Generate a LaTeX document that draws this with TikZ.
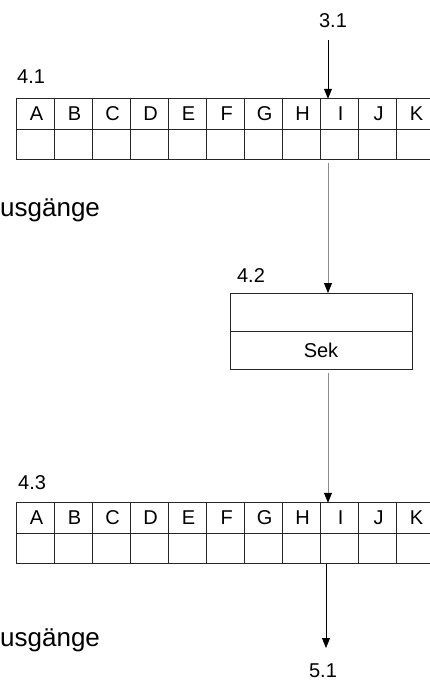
\documentclass[tikz,border=0pt]{standalone}
\usepackage{fontspec}
\setmainfont{Liberation Sans}
\usepackage{tikz}
\usetikzlibrary{arrows.meta}
\tikzstyle{cellblock} = [rectangle, draw=black!85, line width=0.9pt, minimum width=38pt, minimum height=30.5pt, inner sep=0pt, outer sep=0pt, font=\fontsize{20}{24}\selectfont]
\tikzstyle{procblock} = [cellblock, minimum width=182pt, minimum height=38pt]
\tikzstyle{tag} = [inner sep=0pt, font=\fontsize{20}{24}\selectfont]
\tikzstyle{bigtag} = [inner sep=0pt, anchor=base west, font=\fontsize{26}{30}\selectfont]
\tikzstyle{arrow} = [draw, line width=0.8pt, -{Triangle[width=8pt,length=10pt]}]
\tikzstyle{grayflow} = [arrow, draw=black!45, -{Triangle[width=8pt,length=10pt,black]}]

\begin{document}
\begin{tikzpicture}[x=1pt, y=-1pt]
    \clip (0,0) rectangle (430,681);

    % table 4.1
    \node[tag, anchor=base west] at (17,83) (n41) {4.1};
    \node[cellblock] at (35,114) (h1A) {\,A};
    \node[cellblock] at (73,114) (h1B) {\,B};
    \node[cellblock] at (111,114) (h1C) {\,C};
    \node[cellblock] at (149,114) (h1D) {\,D};
    \node[cellblock] at (187,114) (h1E) {\,E};
    \node[cellblock] at (225,114) (h1F) {\,F};
    \node[cellblock] at (263,114) (h1G) {\,G};
    \node[cellblock] at (301,114) (h1H) {\,H};
    \node[cellblock] at (339,114) (h1I) {\,I};
    \node[cellblock] at (377,114) (h1J) {\,J};
    \node[cellblock] at (415,114) (h1K) {\,K};
    \node[cellblock] at (35,144.5) (e1A) {};
    \node[cellblock] at (73,144.5) (e1B) {};
    \node[cellblock] at (111,144.5) (e1C) {};
    \node[cellblock] at (149,144.5) (e1D) {};
    \node[cellblock] at (187,144.5) (e1E) {};
    \node[cellblock] at (225,144.5) (e1F) {};
    \node[cellblock] at (263,144.5) (e1G) {};
    \node[cellblock] at (301,144.5) (e1H) {};
    \node[cellblock] at (339,144.5) (e1I) {};
    \node[cellblock] at (377,144.5) (e1J) {};
    \node[cellblock] at (415,144.5) (e1K) {};
    \node[bigtag] at (0,216) (out1) {usgänge};

    % process 4.2
    \node[tag, anchor=base] at (251,282) (n42) {4.2};
    \node[procblock] at (321,312) (b42top) {};
    \node[procblock] at (321,350) (b42bot) {Sek};

    % table 4.3
    \node[tag, anchor=base west] at (18,489) (n43) {4.3};
    \node[cellblock] at (35,518) (h3A) {\,A};
    \node[cellblock] at (73,518) (h3B) {\,B};
    \node[cellblock] at (111,518) (h3C) {\,C};
    \node[cellblock] at (149,518) (h3D) {\,D};
    \node[cellblock] at (187,518) (h3E) {\,E};
    \node[cellblock] at (225,518) (h3F) {\,F};
    \node[cellblock] at (263,518) (h3G) {\,G};
    \node[cellblock] at (301,518) (h3H) {\,H};
    \node[cellblock] at (339,518) (h3I) {\,I};
    \node[cellblock] at (377,518) (h3J) {\,J};
    \node[cellblock] at (415,518) (h3K) {\,K};
    \node[cellblock] at (35,548.5) (e3A) {};
    \node[cellblock] at (73,548.5) (e3B) {};
    \node[cellblock] at (111,548.5) (e3C) {};
    \node[cellblock] at (149,548.5) (e3D) {};
    \node[cellblock] at (187,548.5) (e3E) {};
    \node[cellblock] at (225,548.5) (e3F) {};
    \node[cellblock] at (263,548.5) (e3G) {};
    \node[cellblock] at (301,548.5) (e3H) {};
    \node[cellblock] at (339,548.5) (e3I) {};
    \node[cellblock] at (377,548.5) (e3J) {};
    \node[cellblock] at (415,548.5) (e3K) {};
    \node[bigtag] at (0,646) (out3) {usgänge};

    % in and out
    \node[tag, anchor=base] at (333,27) (n31) {3.1};
    \node[tag, anchor=base] at (323,677) (n51) {5.1};
    \coordinate (p31) at (328,40);
    \coordinate (p51) at (326,648);

    % flow
    \path[arrow] (p31) -- (p31 |- h1I.north);
    \path[grayflow] ([yshift=-3pt]e1I.south -| p31) -- (p31 |- b42top.north);
    \path[grayflow] ([yshift=-4pt]b42bot.south -| p31) -- (p31 |- h3I.north);
    \path[arrow] (e3I.south -| p51) -- (p51);

\end{tikzpicture}
\end{document}
